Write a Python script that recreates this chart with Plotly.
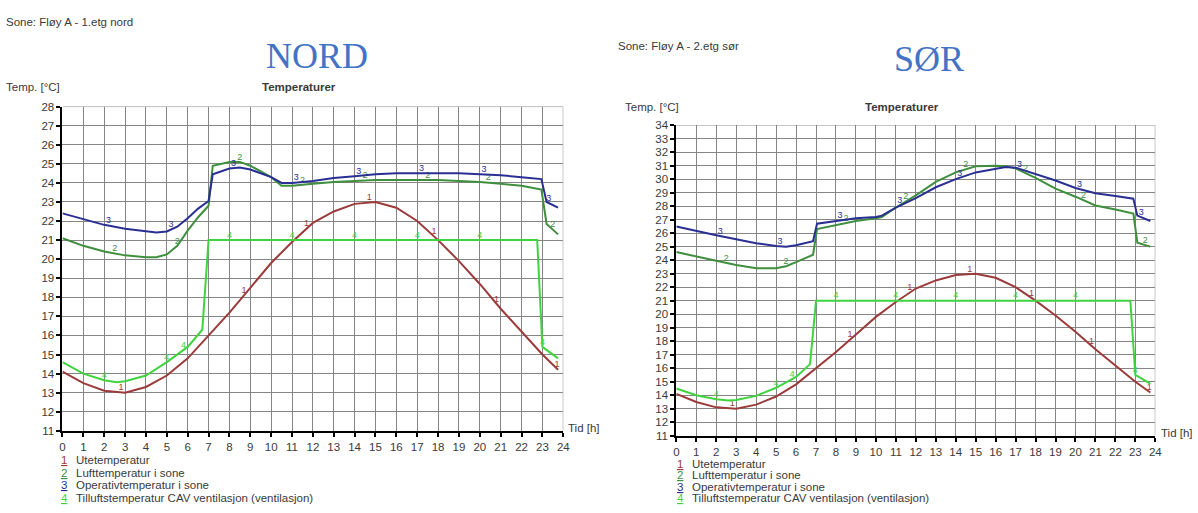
import numpy as np
import plotly.graph_objects as go

W, H = 1198, 513

# ---- data -----------------------------------------------------------------
# Outdoor temperature (same weather day for both zones)
UTE_H = [0, 1, 2, 3, 4, 5, 6, 7, 8, 9, 10, 11, 12, 13, 14, 15, 16, 17, 18, 19,
         20, 21, 22, 23, 23.75]
UTE_T = [14.1, 13.5, 13.1, 13.0, 13.3, 13.9, 14.8, 16.0, 17.2, 18.5, 19.8, 20.9,
         21.9, 22.5, 22.9, 23.0, 22.7, 22.0, 21.0, 19.9, 18.7, 17.4, 16.2, 15.0, 14.2]

# NORD zone: air / operative temperature
NORD_H = [0, 1, 2, 3, 4, 4.5, 5, 5.5, 6, 6.5, 7.0, 7.2, 8, 8.5, 9, 10, 10.5, 11,
          12, 13, 14, 15, 16, 17, 18, 19, 20, 21, 22, 22.95, 23.2, 23.75]
LUFT_N = [21.1, 20.7, 20.4, 20.2, 20.1, 20.1, 20.25, 20.7, 21.5, 22.2, 22.8, 24.9,
          25.1, 25.1, 24.9, 24.3, 23.85, 23.85, 23.95, 24.05, 24.1, 24.15, 24.15,
          24.15, 24.15, 24.1, 24.05, 23.95, 23.85, 23.65, 21.85, 21.3]
OP_N = [22.4, 22.1, 21.8, 21.6, 21.45, 21.4, 21.45, 21.7, 22.15, 22.65, 23.05, 24.45,
        24.75, 24.8, 24.7, 24.3, 24.0, 24.0, 24.1, 24.25, 24.35, 24.45, 24.5, 24.5,
        24.5, 24.5, 24.45, 24.4, 24.3, 24.2, 23.0, 22.7]

# SØR zone: air / operative temperature
SOR_H = [0, 1, 2, 3, 4, 5, 5.5, 6, 6.85, 7.05, 8, 9, 10, 10.3, 11, 12, 13, 14, 15,
         16, 16.5, 17, 18, 19, 20, 21, 22, 22.9, 23.1, 23.75]
LUFT_S = [24.6, 24.25, 23.95, 23.65, 23.4, 23.4, 23.55, 23.85, 24.4, 26.3, 26.6, 26.9,
          27.1, 27.2, 27.9, 28.8, 29.8, 30.5, 30.95, 31.0, 30.95, 30.8, 30.1, 29.3,
          28.7, 28.05, 27.75, 27.45, 25.3, 25.0]
OP_S = [26.5, 26.15, 25.85, 25.55, 25.25, 25.05, 25.0, 25.1, 25.4, 26.7, 26.9, 27.1,
        27.2, 27.3, 27.9, 28.6, 29.4, 30.0, 30.5, 30.8, 30.9, 30.85, 30.4, 29.9,
        29.35, 28.95, 28.75, 28.55, 27.3, 26.9]

# Supply air temperature, CAV ventilation
TILL_H = [0, 1, 2, 2.6, 3, 4, 5, 6, 6.7, 7.0, 22.75, 23.0, 23.75]
TILL_N = [14.6, 14.0, 13.65, 13.55, 13.6, 13.9, 14.6, 15.4, 16.3, 21.0, 21.0, 15.4, 14.8]
TILL_S = [14.5, 14.0, 13.7, 13.6, 13.65, 13.95, 14.55, 15.35, 16.3, 21.0, 21.0, 15.5, 14.85]

# hours where the curve numbers are printed along each line
LBL_1 = [2.8, 8.7, 11.7, 14.7, 17.8, 20.8, 23.7]
LBL_2 = [2.5, 5.5, 8.5, 11.5, 14.5, 17.5, 20.4, 23.5]
LBL_3 = [2.2, 5.2, 8.2, 11.2, 14.2, 17.2, 20.2, 23.3]
LBL_4 = [2.0, 5.0, 5.8, 8.0, 11.0, 14.0, 17.0, 20.0, 23.0]

X_TICKS = list(range(0, 25))
LEGEND = ["Utetemperatur", "Lufttemperatur i sone", "Operativtemperatur i sone",
          "Tilluftstemperatur CAV ventilasjon (ventilasjon)"]

C1, C2, C3, C4 = "#9c3b3b", "#3f8f3f", "#2a2f93", "#3fd43f"
GRID = "#858585"
FONT = "Liberation Sans"
TXT = "#3a3a3a"


def px(x):
    return x / W


def py(y):
    return (H - y) / H


fig = go.Figure()

panels = [
    # (axis suffix, x-domain px, y-domain px, y max, hours, luft, op, till)
    ("", (60, 565), (103, 435), 28, NORD_H, LUFT_N, OP_N, TILL_N),
    ("2", (679, 1162), (122, 440), 34, SOR_H, LUFT_S, OP_S, TILL_S),
]

for suf, (x0, x1), (ytop, ybot), ymax, zh, luft, op, till in panels:
    xa, ya = "x" + suf, "y" + suf
    series = [
        (UTE_H, UTE_T, C1, "1", LBL_1),
        (zh, luft, C2, "2", LBL_2),
        (zh, op, C3, "3", LBL_3),
        (TILL_H, till, C4, "4", LBL_4),
    ]
    for hh, vv, col, num, lbl in series:
        fig.add_trace(go.Scatter(x=hh, y=vv, mode="lines", xaxis=xa, yaxis=ya,
                                 line=dict(color=col, width=2, shape="linear"),
                                 showlegend=False, hoverinfo="skip"))
        ly = np.interp(lbl, hh, vv)
        fig.add_trace(go.Scatter(x=lbl, y=ly, mode="text", text=[num] * len(lbl),
                                 textposition="top center", xaxis=xa, yaxis=ya,
                                 textfont=dict(family=FONT, size=9, color=col),
                                 showlegend=False, hoverinfo="skip",
                                 cliponaxis=False))
    axis_common = dict(showgrid=True, gridcolor=GRID, gridwidth=1, showline=True,
                       linecolor="black", linewidth=2, ticks="outside", ticklen=4,
                       tickwidth=1.5, tickcolor="black", zeroline=False,
                       tickfont=dict(family=FONT, size=11.5, color=TXT))
    fig.update_layout({
        "xaxis" + suf: dict(domain=[px(x0), px(x1)], range=[0, 24], tickvals=X_TICKS,
                            anchor=ya, **axis_common),
        "yaxis" + suf: dict(domain=[py(ybot), py(ytop)], range=[11, ymax], dtick=1,
                            anchor=xa, **axis_common),
    })
    # top and right frame edges of the grid
    fig.add_shape(type="line", xref=xa, yref=ya, x0=0, x1=24, y0=ymax, y1=ymax,
                  line=dict(color=GRID, width=1))
    fig.add_shape(type="line", xref=xa, yref=ya, x0=24, x1=24, y0=11, y1=ymax,
                  line=dict(color=GRID, width=1))

ann = []


def text(x, y, s, size=11, color=TXT, anchor="left", family=FONT, bold=False):
    ann.append(dict(x=px(x), y=py(y), xref="paper", yref="paper",
                    text=f"<b>{s}</b>" if bold else s,
                    showarrow=False, xanchor=anchor, yanchor="middle",
                    font=dict(family=family, size=size, color=color)))


# headings
text(317, 51, "NORD", size=36, color="#4472c4", anchor="center", family="Liberation Serif")
text(934, 54, "SØR", size=36, color="#4472c4", anchor="center", family="Liberation Serif")
text(1, 16, "Sone: Fløy A - 1.etg nord", size=11.5)
text(618, 41, "Sone: Fløy A - 2.etg sør", size=11.5)
text(298, 83, "Temperaturer", size=11.5, anchor="center", bold=True)
text(907, 103, "Temperaturer", size=11.5, anchor="center", bold=True)
text(1, 83, "Temp. [°C]", size=11.5)
text(625, 103, "Temp. [°C]", size=11.5)
text(568, 432, "Tid [h]", size=11.5)
text(1166, 437, "Tid [h]", size=11.5)

# legends under each panel
for (lx, ly0, dy) in [(62, 465, 12.8), (683, 469, 11.6)]:
    for i, (lab, col) in enumerate(zip(LEGEND, [C1, C2, C3, C4])):
        yy = ly0 + i * dy
        text(lx, yy, f"<u>{i + 1}</u>", size=11.5, color=col, anchor="center")
        text(lx + 10, yy, lab, size=11.5)

fig.update_layout(width=W, height=H, margin=dict(l=0, r=0, t=0, b=0),
                  paper_bgcolor="white", plot_bgcolor="white",
                  annotations=ann, showlegend=False)

fig.write_html("out.html")
